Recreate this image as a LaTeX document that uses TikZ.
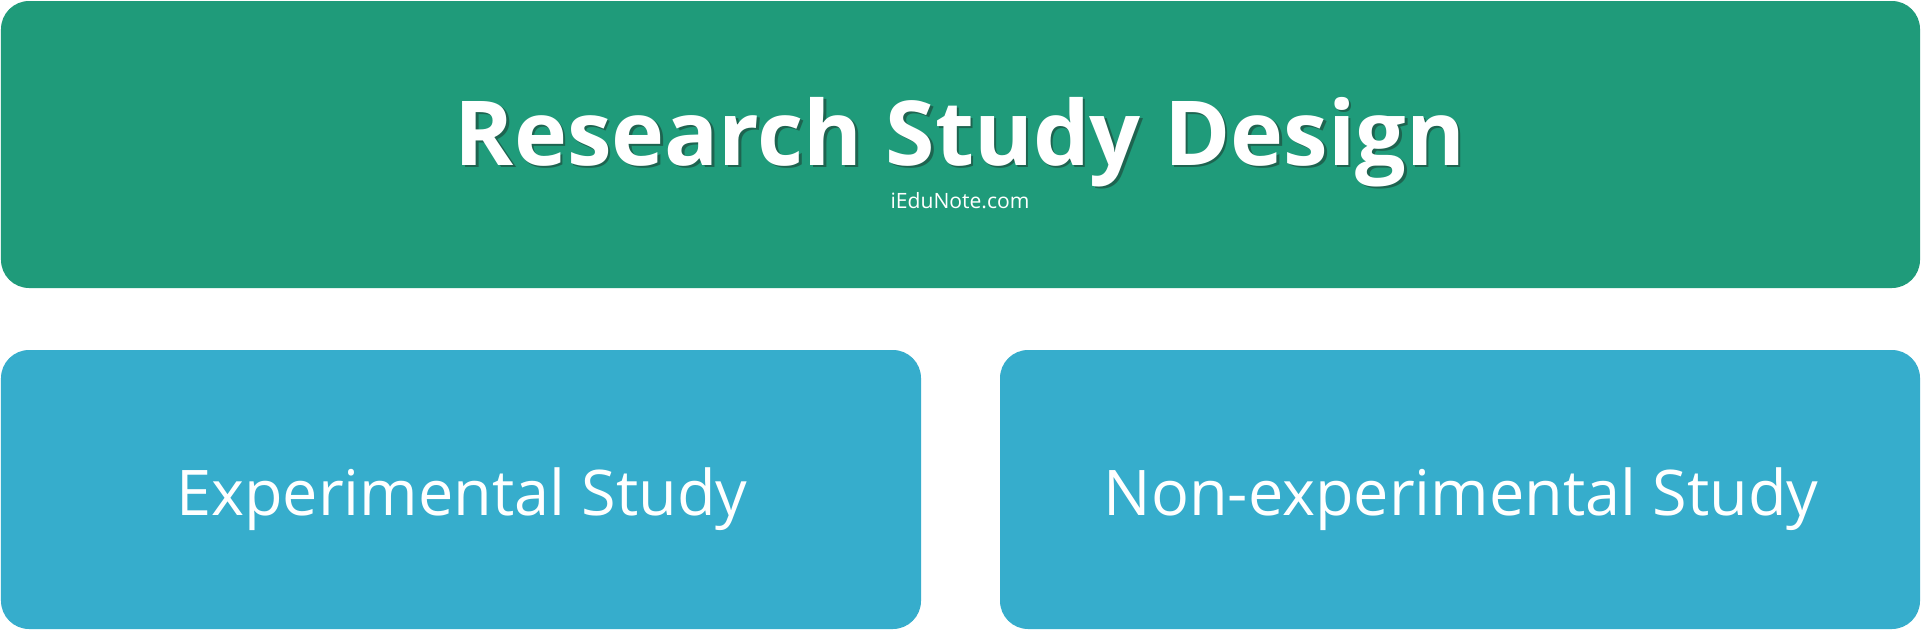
\documentclass[tikz,border=0pt]{standalone}
\usepackage{fontspec}
\setmainfont{Open Sans}
\definecolor{topgreen}{RGB}{31,155,122}
\definecolor{subblue}{RGB}{54,173,204}
\definecolor{shade}{RGB}{30,100,80}
\tikzset{
  panel/.style={rounded corners=8pt, inner sep=0pt, outer sep=0pt},
  label/.style={text=white, inner sep=0pt, anchor=base},
}
\begin{document}
\begin{tikzpicture}[x=0.01cm,y=-0.01cm]
   % 枠
   \useasboundingbox (0,0) rectangle (1921,630);
   \fill[white] (0,0) rectangle (1921,630);

   % 箱
   \fill[topgreen, panel] (1,1) rectangle (1920,288);
   \fill[subblue, panel] (1,350) rectangle (921,629);
   \fill[subblue, panel] (1000,350) rectangle (1920,629);

   % 文字
   \node (titleshadow) [label, text=shade, font=\bfseries\fontsize{25.5}{30}\selectfont] at (962.5,167.5) {Research Study Design};
   \node (title) [label, font=\bfseries\fontsize{25.5}{30}\selectfont] at (960,165) {Research Study Design};
   \node (site) [label, font=\fontsize{6}{7}\selectfont] at (960,208) {iEduNote.com};
   \node (exp) [label, font=\fontsize{17.9}{21}\selectfont] at (462,515) {Experimental Study};
   \node (nonexp) [label, font=\fontsize{17.9}{21}\selectfont] at (1461,515) {Non-experimental Study};
\end{tikzpicture}
\end{document}
